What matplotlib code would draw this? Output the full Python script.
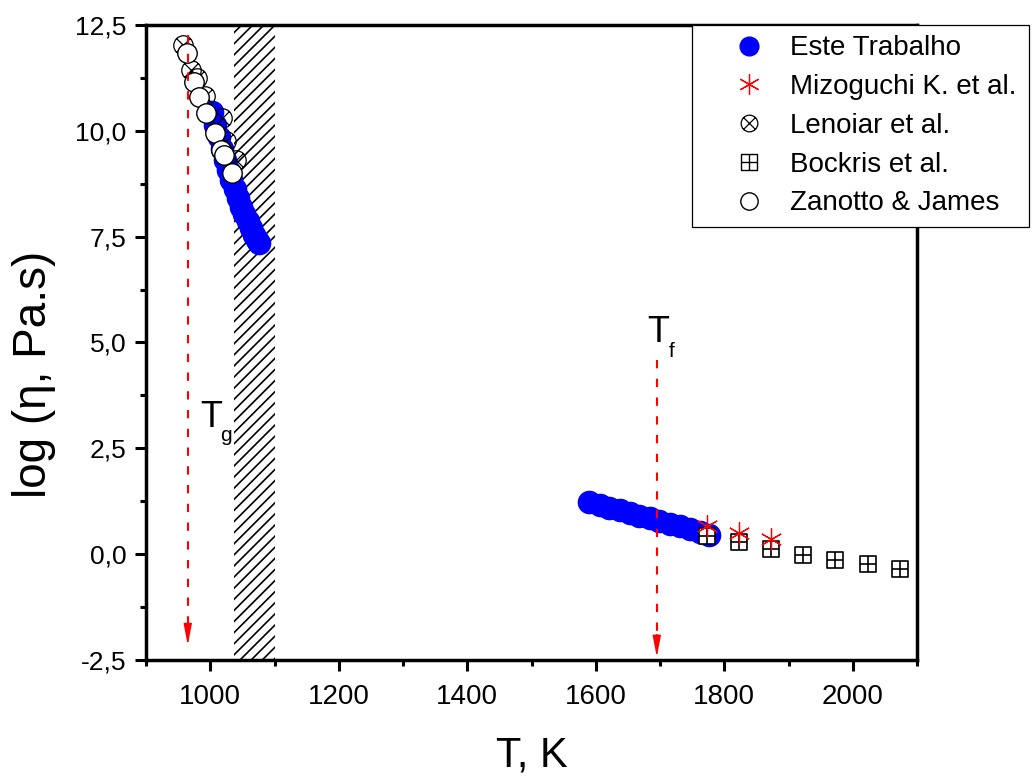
import matplotlib
matplotlib.use('Agg')
import matplotlib.pyplot as plt
from matplotlib.path import Path
from matplotlib.lines import Line2D
from matplotlib.ticker import FixedLocator, FixedFormatter

plt.rcParams['font.family'] = ['Liberation Sans', 'DejaVu Sans']
plt.rcParams['hatch.linewidth'] = 1.2

# ---------------- data ----------------
este_low_T = [1003, 1008, 1013, 1018, 1023, 1028, 1033, 1038, 1043, 1048, 1053, 1058, 1063, 1068, 1073, 1076]
este_low_y = [10.44, 10.14, 9.86, 9.58, 9.32, 9.08, 8.84, 8.62, 8.41, 8.21, 8.03, 7.86, 7.70, 7.55, 7.42, 7.34]
este_high_T = [1590, 1606, 1621, 1637, 1653, 1668, 1684, 1699, 1715, 1731, 1746, 1762, 1777]
este_high_y = [1.24, 1.17, 1.10, 1.04, 0.98, 0.91, 0.85, 0.79, 0.72, 0.66, 0.59, 0.52, 0.46]

mizo_T = [1773, 1823, 1873]
mizo_y = [0.66, 0.49, 0.35]

lenoiar_T = [958, 970, 980, 992, 1019, 1024, 1040]
lenoiar_y = [12.03, 11.44, 11.25, 10.82, 10.30, 9.75, 9.30]

bockris_T = [1773, 1823, 1873, 1923, 1973, 2023, 2073]
bockris_y = [0.43, 0.28, 0.13, -0.02, -0.14, -0.24, -0.34]

zanotto_T = [964, 974, 983, 994, 1008, 1016, 1021, 1034]
zanotto_y = [11.84, 11.15, 10.80, 10.42, 9.95, 9.55, 9.43, 9.00]

legend_labels = ['Este Trabalho', 'Mizoguchi K. et al.', 'Lenoiar et al.', 'Bockris et al.', 'Zanotto & James']

x_major = [1000, 1200, 1400, 1600, 1800, 2000]
x_minor = [900, 1100, 1300, 1500, 1700, 1900, 2100]
y_major = [-2.5, 0.0, 2.5, 5.0, 7.5, 10.0, 12.5]
y_major_labels = ['-2,5', '0,0', '2,5', '5,0', '7,5', '10,0', '12,5']
y_minor = [-1.25, 1.25, 3.75, 6.25, 8.75, 11.25]

hatch_range = (1037, 1100)
Tg = 965
Tf = 1695

# ---------------- custom markers ----------------
M, L, C = Path.MOVETO, Path.LINETO, Path.CLOSEPOLY
circ = Path.unit_circle()
xl = Path([(-0.72, -0.72), (0.72, 0.72), (-0.72, 0.72), (0.72, -0.72)], [M, L, M, L])
circ_x = Path.make_compound_path(circ, xl)
sq = Path([(-1, -1), (1, -1), (1, 1), (-1, 1), (-1, -1)], [M, L, L, L, C])
pl = Path([(0, -1), (0, 1), (-1, 0), (1, 0)], [M, L, M, L])
sq_plus = Path.make_compound_path(sq, pl)

# ---------------- figure ----------------
fig = plt.figure(figsize=(10.32, 7.78), dpi=100)
ax = fig.add_axes([146 / 1032, 1 - 660 / 778, (917 - 146) / 1032, 635 / 778])
ax.set_xlim(900, 2100)
ax.set_ylim(-2.5, 12.5)

ax.axvspan(hatch_range[0], hatch_range[1], facecolor='white', edgecolor='black',
           hatch='///', linewidth=0, zorder=1)

ax.plot(este_low_T, este_low_y, ls='none', marker='o', ms=16, mfc='#0000FF', mec='#0000FF', zorder=3)
ax.plot(este_high_T, este_high_y, ls='none', marker='o', ms=16, mfc='#0000FF', mec='#0000FF', zorder=3)
ax.plot(bockris_T, bockris_y, ls='none', marker=sq_plus, ms=12, mfc='white', mec='black', mew=1.2, zorder=4)
ax.plot(mizo_T, mizo_y, ls='none', marker=(6, 2, 0), ms=16, mec='#FF0000', mew=0.9, zorder=5)
ax.plot(lenoiar_T, lenoiar_y, ls='none', marker=circ_x, ms=14, mfc='none', mec='black', mew=0.9, zorder=6)
ax.plot(zanotto_T, zanotto_y, ls='none', marker='o', ms=14, mfc='white', mec='black', mew=1.0, zorder=7)

# dashed guide lines with arrowheads
dash = (0, (4, 5.0))
ax.plot([Tg, Tg], [12.26, -1.72], color='#FF0000', lw=1.5, ls=dash, zorder=8)
ax.annotate('', xy=(Tg, -2.15), xytext=(Tg, -1.6),
            arrowprops=dict(arrowstyle='-|>,head_length=1.3,head_width=0.25', color='#FF0000',
                            lw=1.0, mutation_scale=10, shrinkA=0, shrinkB=0), zorder=8)
ax.plot([Tf, Tf], [4.59, -2.0], color='#FF0000', lw=1.5, ls=dash, zorder=8)
ax.annotate('', xy=(Tf, -2.43), xytext=(Tf, -1.9),
            arrowprops=dict(arrowstyle='-|>,head_length=1.3,head_width=0.25', color='#FF0000',
                            lw=1.0, mutation_scale=10, shrinkA=0, shrinkB=0), zorder=8)

ax.text(984, 3.0, 'T', fontsize=26, ha='left', va='baseline', zorder=9)
ax.text(1016, 2.67, 'g', fontsize=15, ha='left', va='baseline', zorder=9)
ax.text(1680, 5.01, 'T', fontsize=26, ha='left', va='baseline', zorder=9)
ax.text(1713, 4.66, 'f', fontsize=15, ha='left', va='baseline', zorder=9)

# axes styling
for s in ax.spines.values():
    s.set_linewidth(2.5)
ax.xaxis.set_major_locator(FixedLocator(x_major))
ax.xaxis.set_minor_locator(FixedLocator(x_minor))
ax.yaxis.set_major_locator(FixedLocator(y_major))
ax.yaxis.set_major_formatter(FixedFormatter(y_major_labels))
ax.yaxis.set_minor_locator(FixedLocator(y_minor))
ax.tick_params(axis='both', which='major', direction='out', length=8, width=2.2)
ax.tick_params(axis='both', which='minor', direction='out', length=4, width=2.2)
ax.tick_params(axis='x', which='major', labelsize=20, pad=9)
ax.tick_params(axis='y', which='major', labelsize=19, pad=6)

ax.set_xlabel('T, K', fontsize=30, va='baseline')
ax.xaxis.set_label_coords(0.5, -(767 - 660) / 635)
ax.set_ylabel('log (η, Pa.s)', fontsize=33, va='center', ha='center')
ax.yaxis.set_label_coords((34 - 146) / 771, (660 - 374) / 635)

handles = [
    Line2D([], [], ls='none', marker='o', ms=13.5, mfc='#0000FF', mec='#0000FF'),
    Line2D([], [], ls='none', marker=(6, 2, 0), ms=15, mec='#FF0000', mew=0.9),
    Line2D([], [], ls='none', marker=circ_x, ms=12, mfc='none', mec='black', mew=0.9),
    Line2D([], [], ls='none', marker=sq_plus, ms=11, mfc='white', mec='black', mew=1.0),
    Line2D([], [], ls='none', marker='o', ms=12.5, mfc='white', mec='black', mew=1.0),
]
leg = ax.legend(handles, legend_labels, loc='upper left',
                bbox_to_anchor=(692 / 1032, 1 - 223 / 778, 337 / 1032, 198 / 778),
                bbox_transform=fig.transFigure, mode='expand', borderaxespad=0,
                fontsize=20, frameon=True, fancybox=False, framealpha=1,
                edgecolor='black', handlelength=3.36, handletextpad=-0.2,
                labelspacing=0.46, borderpad=0.37)
leg.get_frame().set_linewidth(0.9)
leg.set_zorder(20)

fig.savefig('out.png', dpi=100)
